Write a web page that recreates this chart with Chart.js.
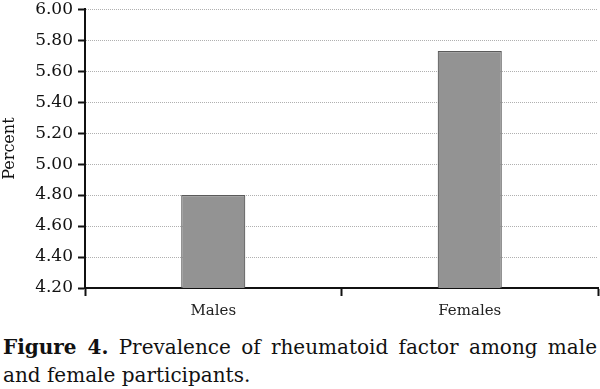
<!DOCTYPE html>
<html>
<head>
<meta charset="utf-8">
<script src="https://cdn.jsdelivr.net/npm/chart.js@4/dist/chart.umd.min.js"></script>
<style>
  html, body { margin: 0; padding: 0; background: #fff; }
  #wrap { position: absolute; left: 0; top: -6px; width: 600px; height: 328px; }
  .cap { position: absolute; left: 3px; width: 594px; font-family: "DejaVu Serif", serif; font-size: 20px; line-height: 28px; color: #111; white-space: nowrap; }
  #cap1 { top: 333px; text-align: justify; text-align-last: justify; }
  #cap2 { top: 361px; text-align: left; }
</style>
</head>
<body>
<div id="wrap"><canvas id="c"></canvas></div>
<div class="cap" id="cap1"><b>Figure 4.</b> Prevalence of rheumatoid factor among male</div>
<div class="cap" id="cap2">and female participants.</div>
<script>
const categories = ["Males", "Females"];
const prevalence = [4.80, 5.73];
const yMin = 4.20, yMax = 6.00, yStep = 0.20;
const yTitle = "Percent";

new Chart(document.getElementById('c'), {
  type: 'bar',
  data: {
    labels: categories,
    datasets: [{
      data: prevalence,
      backgroundColor: '#939393',
      borderColor: '#5a5a5a',
      borderWidth: 1.2,
      barPercentage: 0.5,
      categoryPercentage: 0.5
    }]
  },
  options: {
    responsive: true,
    maintainAspectRatio: false,
    animation: false,
    layout: { padding: { top: 0, right: 2, left: 0, bottom: 0 } },
    plugins: { legend: { display: false }, tooltip: { enabled: false } },
    scales: {
      x: {
        offset: true,
        grid: { display: true, offset: true, drawOnChartArea: false, drawTicks: true, tickLength: 8, tickColor: '#111', tickWidth: 2 },
        border: { display: true, color: '#111', width: 2 },
        ticks: { color: '#222', font: { family: 'DejaVu Serif', size: 15 }, padding: 6 },
        afterFit: s => { s.height = 34; }
      },
      y: {
        min: yMin, max: yMax,
        grid: { color: '#b0b0b0', lineWidth: 1, tickColor: '#111', tickWidth: 2, tickLength: 7 },
        border: { display: true, color: '#111', width: 2, dash: [1, 1] },
        ticks: { stepSize: yStep, color: '#111', font: { family: 'DejaVu Serif', size: 17 }, padding: 5,
                 callback: v => Number(v).toFixed(2) },
        title: { display: true, text: yTitle, color: '#111', font: { family: 'DejaVu Serif', size: 16 }, padding: { top: 0, bottom: 0 } },
        afterFit: s => { s.width = 85; }
      }
    }
  }
});
</script>
</body>
</html>
